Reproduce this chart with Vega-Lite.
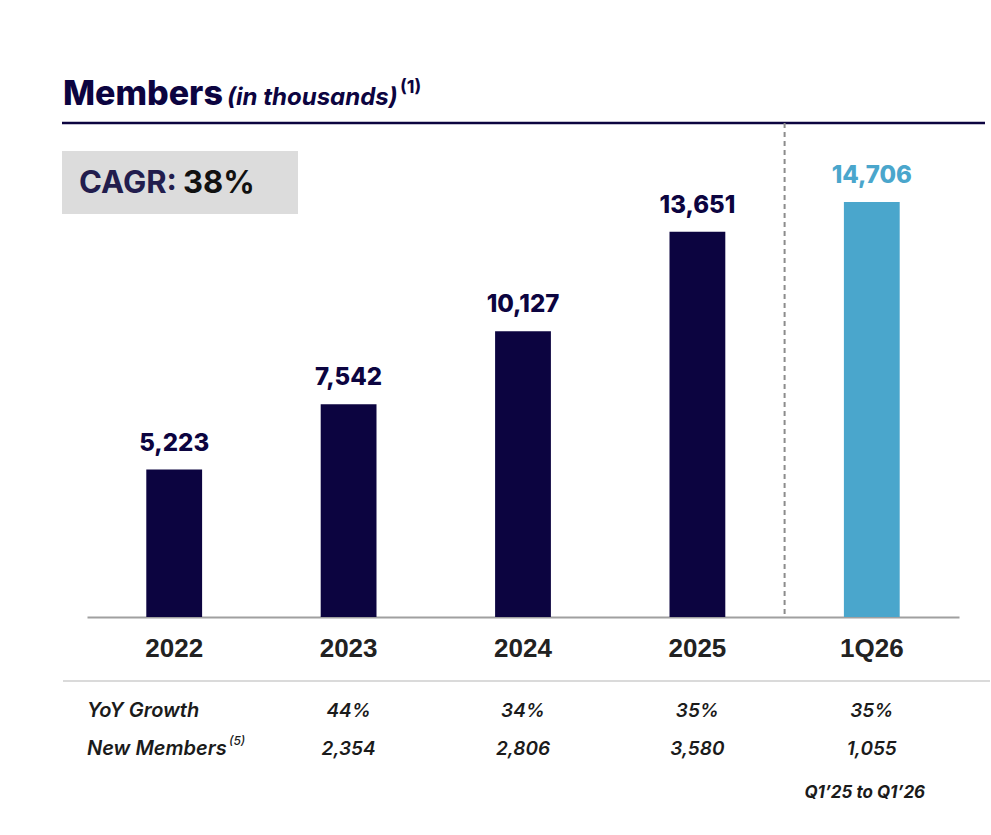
{
  "$schema": "https://vega.github.io/schema/vega-lite/v6.json",
  "width": 991,
  "height": 617,
  "autosize": {"type": "none"},
  "padding": {"left": 0, "top": 0, "right": 0, "bottom": 218},
  "background": "white",
  "config": {"view": {"stroke": null}},
  "datasets": {
    "bars": [
      {"period": "2022", "members": 5223, "label": "5,223", "group": "annual"},
      {"period": "2023", "members": 7542, "label": "7,542", "group": "annual"},
      {"period": "2024", "members": 10127, "label": "10,127", "group": "annual"},
      {"period": "2025", "members": 13651, "label": "13,651", "group": "annual"},
      {"period": "1Q26", "members": 14706, "label": "14,706", "group": "quarter"}
    ],
    "table": [
      {"period": "2023", "yoy": "44%", "newMembers": "2,354"},
      {"period": "2024", "yoy": "34%", "newMembers": "2,806"},
      {"period": "2025", "yoy": "35%", "newMembers": "3,580"},
      {"period": "1Q26", "yoy": "35%", "newMembers": "1,055"}
    ],
    "one": [{}]
  },
  "layer": [
    {
      "data": {"name": "bars"},
      "mark": {"type": "bar", "width": {"band": 0.32}},
      "encoding": {
        "x": {
          "field": "period", "type": "nominal", "sort": null,
          "scale": {"domain": ["2022", "2023", "2024", "2025", "1Q26"], "range": [87, 959], "paddingInner": 0, "paddingOuter": 0},
          "axis": {
            "title": null, "domain": true, "domainColor": "#a0a0a0", "domainWidth": 2,
            "ticks": false, "tickSize": 0, "labelAngle": 0,
            "labelFont": "Liberation Sans", "labelFontWeight": "bold", "labelFontSize": 26,
            "labelColor": "#222222", "labelBaseline": "alphabetic", "labelPadding": 39
          }
        },
        "y": {
          "field": "members", "type": "quantitative",
          "scale": {"domain": [0, 21864], "nice": false, "zero": false},
          "axis": null
        },
        "color": {
          "field": "group", "type": "nominal",
          "scale": {"domain": ["annual", "quarter"], "range": ["#0c0440", "#4aa6cc"]},
          "legend": null
        }
      }
    },
    {
      "data": {"name": "bars"},
      "mark": {"type": "text", "font": "Inter", "fontWeight": 800, "fontSize": 24, "baseline": "alphabetic", "align": "center", "dy": -19},
      "encoding": {
        "x": {"field": "period", "type": "nominal", "sort": null},
        "y": {"field": "members", "type": "quantitative"},
        "text": {"field": "label"},
        "color": {"field": "group", "type": "nominal", "legend": null}
      }
    },
    {
      "data": {"name": "one"},
      "mark": {"type": "rule", "color": "#0c0440", "strokeWidth": 2.5, "xOffset": -25, "x2Offset": 26},
      "encoding": {
        "x": {"datum": "2022", "bandPosition": 0},
        "x2": {"datum": "1Q26", "bandPosition": 1},
        "y": {"datum": 17505}
      }
    },
    {
      "data": {"name": "one"},
      "mark": {"type": "rule", "color": "#8c8c8c", "strokeWidth": 2, "strokeDash": [5, 4]},
      "encoding": {
        "x": {"datum": "1Q26", "bandPosition": 0},
        "y": {"datum": 17505},
        "y2": {"datum": 0}
      }
    },
    {
      "data": {"name": "one"},
      "mark": {"type": "rule", "color": "#dadada", "strokeWidth": 2, "xOffset": -24, "x2Offset": 31},
      "encoding": {
        "x": {"datum": "2022", "bandPosition": 0},
        "x2": {"datum": "1Q26", "bandPosition": 1},
        "y": {"datum": -2268}
      }
    },
    {
      "data": {"name": "one"},
      "mark": {"type": "rect", "color": "#dcdcdc", "xOffset": -25, "x2Offset": 211},
      "encoding": {
        "x": {"datum": "2022", "bandPosition": 0},
        "x2": {"datum": "2022", "bandPosition": 0},
        "y": {"datum": 16513},
        "y2": {"datum": 14281}
      }
    },
    {
      "data": {"name": "one"},
      "mark": {"type": "text", "text": "Members", "font": "Inter", "fontWeight": 800, "fontSize": 34, "color": "#0c0440", "align": "left", "baseline": "alphabetic", "dx": -24},
      "encoding": {"x": {"datum": "2022", "bandPosition": 0}, "y": {"datum": 18143}}
    },
    {
      "data": {"name": "one"},
      "mark": {"type": "text", "text": "(in thousands)", "font": "Inter", "fontWeight": 700, "fontStyle": "italic", "fontSize": 24, "color": "#0c0440", "align": "left", "baseline": "alphabetic", "dx": 140},
      "encoding": {"x": {"datum": "2022", "bandPosition": 0}, "y": {"datum": 18143}}
    },
    {
      "data": {"name": "one"},
      "mark": {"type": "text", "text": "(1)", "font": "Inter", "fontWeight": 700, "fontSize": 18, "color": "#0c0440", "align": "left", "baseline": "alphabetic", "dx": 313},
      "encoding": {"x": {"datum": "2022", "bandPosition": 0}, "y": {"datum": 18568}}
    },
    {
      "data": {"name": "one"},
      "mark": {"type": "text", "text": "CAGR:", "font": "Inter", "fontWeight": 700, "fontSize": 31, "color": "#221d4d", "align": "left", "baseline": "alphabetic", "dx": -8},
      "encoding": {"x": {"datum": "2022", "bandPosition": 0}, "y": {"datum": 15025}}
    },
    {
      "data": {"name": "one"},
      "mark": {"type": "text", "text": "38%", "font": "Inter", "fontWeight": 700, "fontSize": 31, "color": "#111111", "align": "left", "baseline": "alphabetic", "dx": 96},
      "encoding": {"x": {"datum": "2022", "bandPosition": 0}, "y": {"datum": 15025}}
    },
    {
      "data": {"name": "one"},
      "mark": {"type": "text", "text": "YoY Growth", "font": "Inter", "fontWeight": 600, "fontStyle": "italic", "fontSize": 20, "color": "#1b1b1b", "align": "left", "baseline": "alphabetic"},
      "encoding": {"x": {"datum": "2022", "bandPosition": 0}, "y": {"datum": -3544}}
    },
    {
      "data": {"name": "one"},
      "mark": {"type": "text", "text": "New Members", "font": "Inter", "fontWeight": 600, "fontStyle": "italic", "fontSize": 20, "color": "#1b1b1b", "align": "left", "baseline": "alphabetic"},
      "encoding": {"x": {"datum": "2022", "bandPosition": 0}, "y": {"datum": -4890}}
    },
    {
      "data": {"name": "one"},
      "mark": {"type": "text", "text": "(5)", "font": "Inter", "fontWeight": 500, "fontStyle": "italic", "fontSize": 12, "color": "#1b1b1b", "align": "left", "baseline": "alphabetic", "dx": 142},
      "encoding": {"x": {"datum": "2022", "bandPosition": 0}, "y": {"datum": -4536}}
    },
    {
      "data": {"name": "table"},
      "mark": {"type": "text", "font": "Inter", "fontWeight": 600, "fontStyle": "italic", "fontSize": 19, "color": "#1b1b1b", "align": "center", "baseline": "alphabetic"},
      "encoding": {
        "x": {"field": "period", "type": "nominal", "sort": null},
        "y": {"datum": -3544},
        "text": {"field": "yoy"}
      }
    },
    {
      "data": {"name": "table"},
      "mark": {"type": "text", "font": "Inter", "fontWeight": 600, "fontStyle": "italic", "fontSize": 19, "color": "#1b1b1b", "align": "center", "baseline": "alphabetic"},
      "encoding": {
        "x": {"field": "period", "type": "nominal", "sort": null},
        "y": {"datum": -4890},
        "text": {"field": "newMembers"}
      }
    },
    {
      "data": {"name": "one"},
      "mark": {"type": "text", "text": "Q1’25 to Q1’26", "font": "Inter", "fontWeight": 700, "fontStyle": "italic", "fontSize": 17, "color": "#1b1b1b", "align": "center", "baseline": "alphabetic", "dx": -7},
      "encoding": {"x": {"datum": "1Q26", "bandPosition": 0.5}, "y": {"datum": -6414}}
    }
  ]
}
